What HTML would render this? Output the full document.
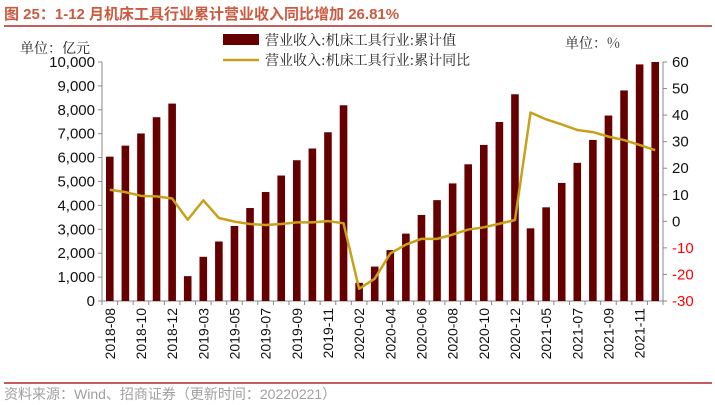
<!DOCTYPE html>
<html><head><meta charset="utf-8"><style>
body{margin:0;background:#fff;width:715px;height:405px;overflow:hidden;font-family:"Liberation Sans","Noto Sans CJK SC",sans-serif;}
svg{display:block}
</style></head><body>
<svg id="c" width="715" height="405" xmlns="http://www.w3.org/2000/svg">
<text x="4" y="19" font-size="15" font-weight="bold" fill="#cc5a40" font-family="Liberation Sans,Noto Sans CJK SC,sans-serif">图 25：1-12 月机床工具行业累计营业收入同比增加 26.81%</text>
<line x1="4" y1="26" x2="712" y2="26" stroke="#b0282a" stroke-width="1.5"/>
<text x="20" y="53" font-size="14" fill="#222" font-family="Noto Serif CJK SC,serif">单位：亿元</text>
<text x="565" y="48" font-size="14" fill="#222" font-family="Noto Serif CJK SC,serif">单位：%</text>
<rect x="223" y="34" width="36" height="11" fill="#660000"/>
<text x="265" y="45" font-size="14" fill="#222" font-family="Noto Serif CJK SC,serif">营业收入:机床工具行业:累计值</text>
<line x1="223" y1="60" x2="259" y2="60" stroke="#c9a01a" stroke-width="2.5"/>
<text x="265" y="65" font-size="14" fill="#222" font-family="Noto Serif CJK SC,serif">营业收入:机床工具行业:累计同比</text>
<line x1="4" y1="383" x2="712" y2="383" stroke="#b0282a" stroke-width="1.5"/>
<text x="4" y="399" font-size="14" fill="#a0a0a0">资料来源：Wind、招商证券（更新时间：20220221）</text>
<g id="plot"></g>
</svg>
<script>
const categories=["2018-08","2018-09","2018-10","2018-11","2018-12","2019-02","2019-03","2019-04","2019-05","2019-06","2019-07","2019-08","2019-09","2019-10","2019-11","2019-12","2020-02","2020-03","2020-04","2020-05","2020-06","2020-07","2020-08","2020-09","2020-10","2020-11","2020-12","2021-04","2021-05","2021-06","2021-07","2021-08","2021-09","2021-10","2021-11","2021-12"];
const revenue=[6040,6500,7010,7690,8260,1040,1850,2490,3140,3890,4560,5250,5890,6380,7060,8190,760,1440,2130,2820,3600,4220,4920,5720,6530,7490,8650,3040,3920,4940,5780,6740,7760,8810,9900,10000];
const yoy=[11.9,11.0,9.6,9.4,8.6,0.6,7.9,1.25,-0.1,-1.0,-1.4,-1.0,-0.4,-0.4,0.1,-0.75,-25.4,-21.6,-12.1,-8.75,-6.6,-6.6,-5.0,-3.1,-2.25,-0.9,0.5,41.0,38.4,36.5,34.4,33.6,31.9,30.6,28.75,26.8];
const leftTicks=[0,1000,2000,3000,4000,5000,6000,7000,8000,9000,10000];
const rightTicks=[-30,-20,-10,0,10,20,30,40,50,60];
</script>
<script>
(function(){
const NS="http://www.w3.org/2000/svg";
const g=document.getElementById('plot');
const X0=102,X1=663,Y0=301,Y1=62;
const n=categories.length,band=(X1-X0)/n;
const xc=i=>X0+band*(i+0.5);
const yL=v=>Y0-(v-0)/(10000-0)*(Y0-Y1);
const yR=v=>Y0-(v+30)/90*(Y0-Y1);
function mk(t,a){const e=document.createElementNS(NS,t);for(const k in a)e.setAttribute(k,a[k]);g.appendChild(e);return e;}
let e=mk('line',{x1:X0,y1:Y1,x2:X0,y2:Y0,stroke:'#888'});


e=mk('line',{x1:X1,y1:Y1,x2:X1,y2:Y0,stroke:'#888'});


e=mk('line',{x1:X0,y1:Y0,x2:X1,y2:Y0,stroke:'#888'});


leftTicks.forEach(v=>{
 const y=yL(v);
 mk('line',{x1:X0-4,y1:y,x2:X0,y2:y,stroke:'#888'});
 const t=mk('text',{x:X0-7,y:y+5,'font-size':15,'text-anchor':'end',fill:'#111'});
 t.textContent=v.toLocaleString('en-US');
 
 
});
rightTicks.forEach(v=>{
 const y=yR(v);
 mk('line',{x1:X1,y1:y,x2:X1+4,y2:y,stroke:'#888'});
 const t=mk('text',{x:X1+9,y:y+5,'font-size':15,fill:v<0?'#ff0000':'#111'});
 t.textContent=v;
 
 
});
for(let i=0;i<=n;i++){mk('line',{x1:X0+band*i,y1:Y0,x2:X0+band*i,y2:Y0+4,stroke:'#888'});}
revenue.forEach((v,i)=>{
 const r=mk('rect',{x:xc(i)-3.8,y:yL(v),width:7.6,height:Y0-yL(v),fill:'#660000'});
 
 
});
const p=mk('polyline',{points:yoy.map((v,i)=>xc(i)+','+yR(v)).join(' '),fill:'none',stroke:'#c9a01a','stroke-width':2.5,'stroke-linejoin':'round'});


categories.forEach((c,i)=>{
 if(i%2)return;
 const x=xc(i)+5,y=Y0+7;
 const t=mk('text',{x:x,y:y,'font-size':14,'text-anchor':'end',fill:'#111',transform:`rotate(-90 ${x} ${y})`});
 t.textContent=c;
 
 
});
})();
</script>
</body></html>
